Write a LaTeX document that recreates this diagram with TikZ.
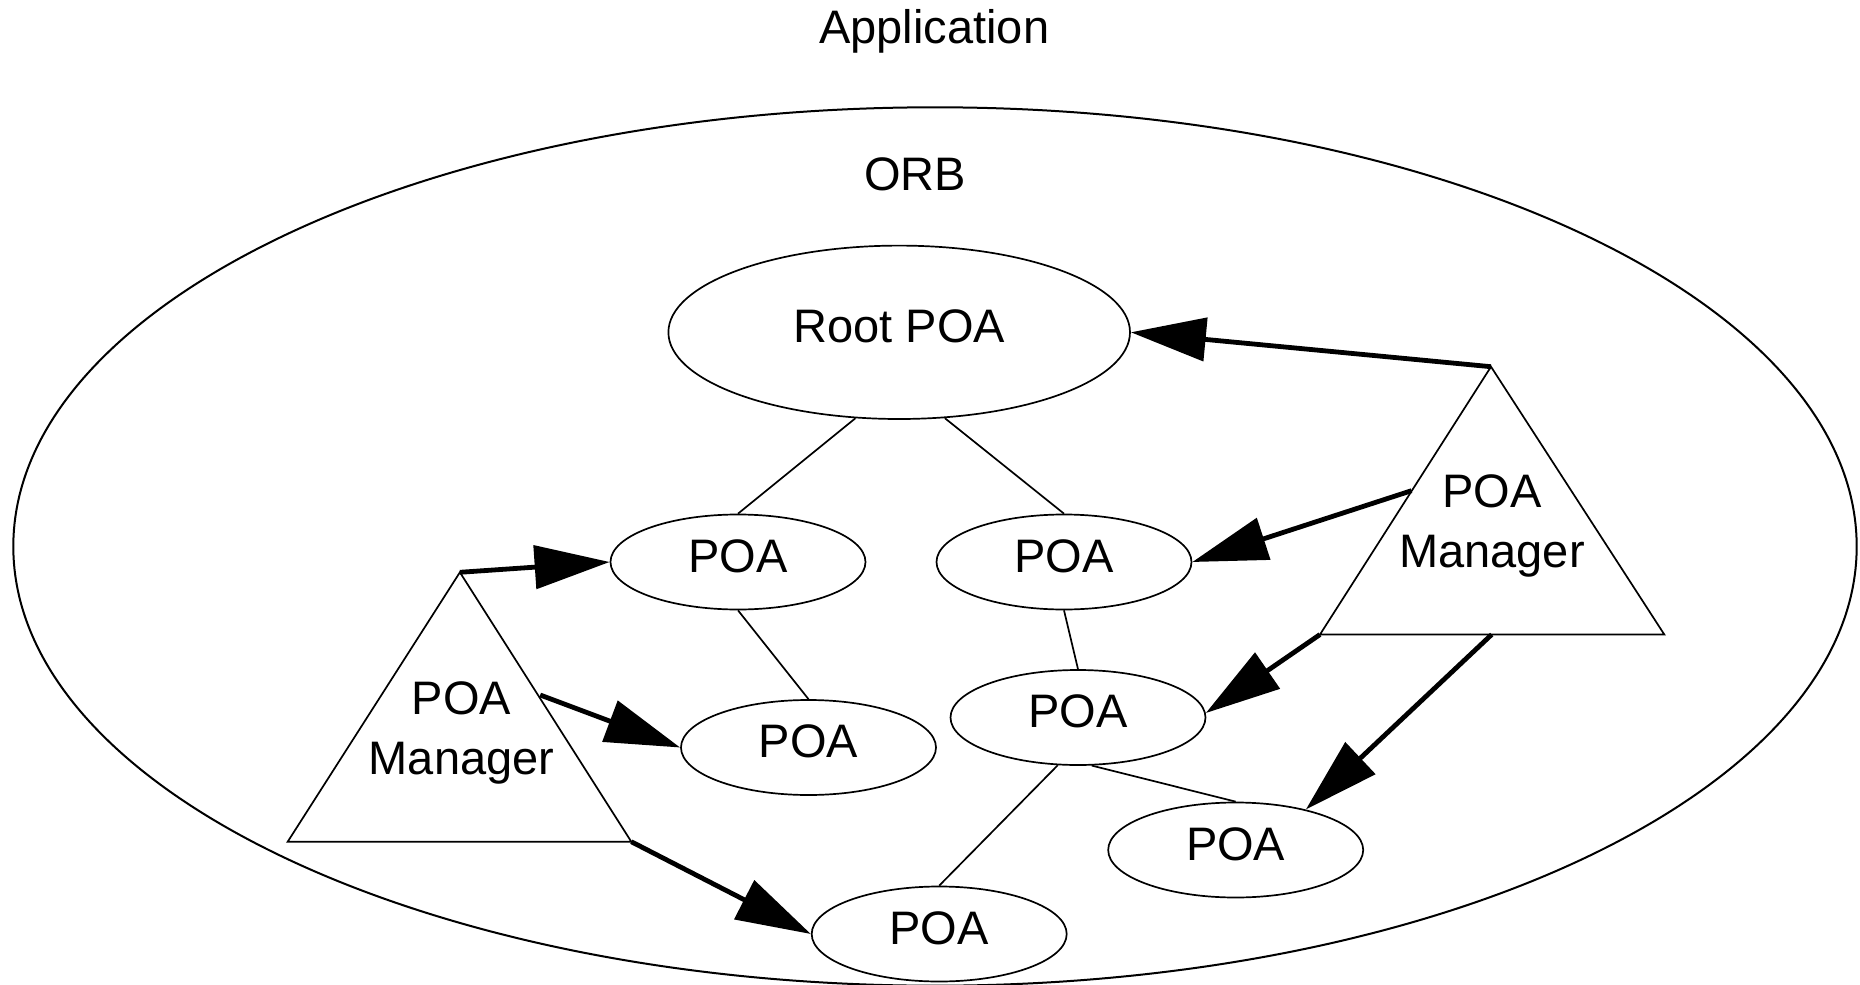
\documentclass[tikz,border=0pt]{standalone}
\usepackage{fontspec}
\setmainfont{Liberation Sans}
\usetikzlibrary{arrows.meta,shapes.geometric}
\begin{document}
\begin{tikzpicture}[x=0.5pt,y=-0.5pt,
  every node/.style={font=\fontsize{23.5}{30}\selectfont},
  poa/.style={ellipse,draw,line width=0.85pt,minimum width=127.5pt,minimum height=47.5pt,inner sep=0pt,text depth=6.4pt},
  thinline/.style={line width=0.85pt},
  mgr/.style={draw,line width=0.85pt,line join=miter},
  mgrtext/.style={align=center,anchor=north,inner sep=0pt},
  thickarrow/.style={line width=2.4pt,-{Triangle[length=37.5pt,width=21.5pt]}},
  lbl/.style={anchor=base,inner sep=0pt}]
\useasboundingbox (0,0) rectangle (1860,985);
% outer ORB ellipse
\node[ellipse,draw,line width=1pt,minimum width=921.7pt,minimum height=439.2pt,inner sep=0pt] (orb) at (935,546.5) {};
\node[lbl] (app) at (934.3,43) {Application};
\node[lbl] (orblbl) at (915.3,190.7) {ORB};
% POA nodes
\node[poa,minimum width=230.8pt,minimum height=86.7pt] (root) at (899.2,332.3) {Root POA};
\node[poa] (poa1) at (738,562) {POA};
\node[poa] (poa2) at (1064,562) {POA};
\node[poa] (poa3) at (808.5,747.5) {POA};
\node[poa] (poa4) at (1078,717.5) {POA};
\node[poa] (poa5) at (1235.7,850) {POA};
\node[poa] (poa6) at (939.2,934) {POA};
% tree lines
\draw[thinline] (root.-117) -- (poa1.north);
\draw[thinline] (root.-62) -- (poa2.north);
\draw[thinline] (poa1.south) -- (poa3.north);
\draw[thinline] (poa2.south) -- (poa4.north);
\draw[thinline] (poa4.-113) -- (poa6.north);
\draw[thinline] (poa4.-74) -- (poa5.north);
% right POA manager
\coordinate (rA) at (1491,366.7);
\coordinate (rL) at (1320,634.5);
\coordinate (rR) at (1664.3,634.5);
\coordinate (rE) at (1411.5,490.7);
\coordinate (rB) at (1491.7,634.5);
\draw[mgr] (rA) -- (rL) -- (rR) -- cycle;
\node[mgrtext] (rmgr) at (1492,474.5) {POA\\Manager};
% left POA manager
\coordinate (lA) at (459.9,572.3);
\coordinate (lL) at (287.7,841.7);
\coordinate (lR) at (631.3,841.7);
\coordinate (lE) at (540.2,695);
\draw[mgr] (lA) -- (lL) -- (lR) -- cycle;
\node[mgrtext] (lmgr) at (461.5,681) {POA\\Manager};
% arrows
\draw[thickarrow] (rA) -- (root.east);
\draw[thickarrow] (rE) -- (poa2.east);
\draw[thickarrow] (rL) -- (poa4.2);
\draw[thickarrow] (rB) -- (poa5.30);
\draw[thickarrow] (lA) -- (poa1.west);
\draw[thickarrow] (lE) -- (poa3.west);
\draw[thickarrow] (lR) -- (poa6.west);
\end{tikzpicture}
\end{document}
